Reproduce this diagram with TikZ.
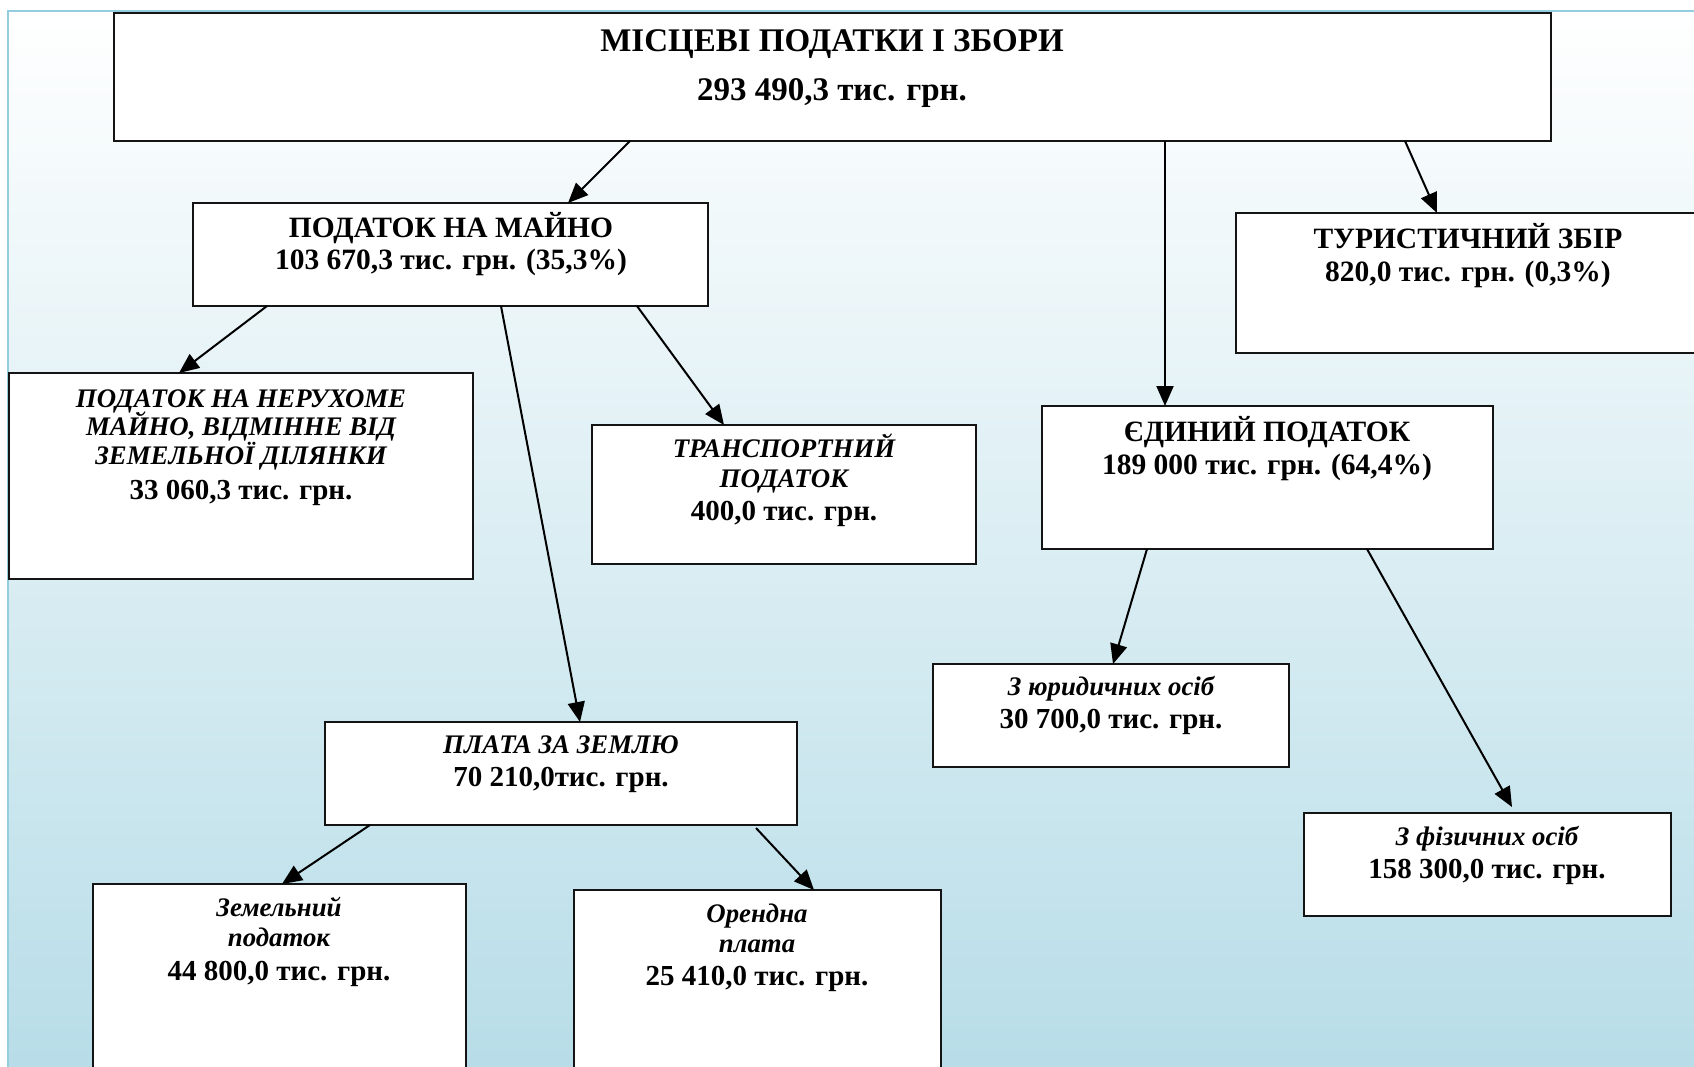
\documentclass[tikz,border=0pt]{standalone}
\usepackage{fontspec}
\setmainfont{Liberation Serif}
\usetikzlibrary{arrows.meta}
\definecolor{bgblue}{RGB}{184,221,232}
\definecolor{frameblue}{RGB}{146,206,222}
\definecolor{boxline}{RGB}{20,20,20}
\begin{document}
\begin{tikzpicture}[x=1pt,y=-1pt,
  box/.style={draw=boxline, line width=2pt, fill=white, rectangle, inner sep=0pt, outer sep=0pt, anchor=north west},
  ttl/.style={font=\fontsize{33}{38}\selectfont\bfseries, anchor=base, inner sep=0pt},
  hdr/.style={font=\fontsize{29.5}{33}\selectfont\bfseries, anchor=base, inner sep=0pt},
  itl/.style={font=\fontsize{26.8}{30}\selectfont\bfseries\itshape, anchor=base, inner sep=0pt},
  num/.style={font=\fontsize{29}{32}\selectfont\bfseries, anchor=base, inner sep=0pt},
  arr/.style={draw=black, line width=2pt, -{Triangle[length=20pt,width=17pt]}}]
\useasboundingbox (0,0) rectangle (1694,1066);
\clip (0,0) rectangle (1694,1066);
\fill[white] (0,0) rectangle (1694,1066);
\shade[top color=white, bottom color=bgblue] (8,11) rectangle (1694,1066);
\draw[frameblue, line width=2.5pt] (8,1070) -- (8,11) -- (1700,11);

% boxes
\node[box, minimum width=1437pt, minimum height=128pt] (top) at (114,13) {};
\node[box, minimum width=515pt, minimum height=103pt] (mayno) at (193,203) {};
\node[box, minimum width=476pt, minimum height=140pt] (tur) at (1236,213) {};
\node[box, minimum width=464pt, minimum height=206pt] (neruh) at (9,373) {};
\node[box, minimum width=384pt, minimum height=139pt] (transp) at (592,425) {};
\node[box, minimum width=451pt, minimum height=143pt] (yed) at (1042,406) {};
\node[box, minimum width=472pt, minimum height=103pt] (plata) at (325,722) {};
\node[box, minimum width=356pt, minimum height=103pt] (yur) at (933,664) {};
\node[box, minimum width=367pt, minimum height=103pt] (fiz) at (1304,813) {};
\node[box, minimum width=373pt, minimum height=220pt] (zem) at (93,884) {};
\node[box, minimum width=367pt, minimum height=220pt] (oren) at (574,890) {};

% texts
\node[ttl] (ttopa) at (832,51) {МІСЦЕВІ ПОДАТКИ І ЗБОРИ};
\node[ttl] (ttopb) at (832,100) {293 490,3 тис. грн.};
\node[hdr] (tmaya) at (451,237) {ПОДАТОК НА МАЙНО};
\node[hdr] (tmayb) at (451,269) {103 670,3 тис. грн. (35,3\%)};
\node[hdr] (ttura) at (1468,248) {ТУРИСТИЧНИЙ ЗБІР};
\node[hdr] (tturb) at (1468,281) {820,0 тис. грн. (0,3\%)};
\node[itl] (tnera) at (241,407) {ПОДАТОК НА НЕРУХОМЕ};
\node[itl] (tnerb) at (241,435) {МАЙНО, ВІДМІННЕ ВІД};
\node[itl] (tnerc) at (241,464) {ЗЕМЕЛЬНОЇ ДІЛЯНКИ};
\node[num] (tnerd) at (241,499) {33 060,3 тис. грн.};
\node[itl] (ttra) at (784,457) {ТРАНСПОРТНИЙ};
\node[itl] (ttrb) at (784,487) {ПОДАТОК};
\node[num] (ttrc) at (784,520) {400,0 тис. грн.};
\node[hdr] (tyeda) at (1267,441) {ЄДИНИЙ ПОДАТОК};
\node[hdr] (tyedb) at (1267,474) {189 000 тис. грн. (64,4\%)};
\node[itl] (tpla) at (561,753) {ПЛАТА ЗА ЗЕМЛЮ};
\node[num] (tplb) at (561,786) {70 210,0тис. грн.};
\node[itl] (tyura) at (1111,695) {З юридичних осіб};
\node[num] (tyurb) at (1111,728) {30 700,0 тис. грн.};
\node[itl] (tfiza) at (1487,845) {З фізичних осіб};
\node[num] (tfizb) at (1487,878) {158 300,0 тис. грн.};
\node[itl] (tzema) at (279,916) {Земельний};
\node[itl] (tzemb) at (279,946) {податок};
\node[num] (tzemc) at (279,980) {44 800,0 тис. грн.};
\node[itl] (torea) at (757,922) {Орендна};
\node[itl] (toreb) at (757,952) {плата};
\node[num] (torec) at (757,985) {25 410,0 тис. грн.};

% connectors
\draw[arr] ([xshift=516pt]top.south west) -- ([xshift=375pt]mayno.north west);
\draw[arr] ([xshift=1051pt]top.south west) -- ([xshift=123pt]yed.north west);
\draw[arr] ([xshift=1291pt]top.south west) -- ([xshift=201pt]tur.north west);
\draw[arr] ([xshift=74pt]mayno.south west) -- ([xshift=170pt]neruh.north west);
\draw[arr] ([xshift=308pt]mayno.south west) -- ([xshift=255pt]plata.north west);
\draw[arr] ([xshift=444pt]mayno.south west) -- ([xshift=132pt]transp.north west);
\draw[arr] ([xshift=45pt]plata.south west) -- ([xshift=189pt]zem.north west);
\draw[arr] ([xshift=431pt,yshift=-3pt]plata.south west) -- ([xshift=240pt]oren.north west);
\draw[arr] ([xshift=105pt]yed.south west) -- ([xshift=180pt]yur.north west);
\draw[arr] ([xshift=325pt]yed.south west) -- ([xshift=208pt,yshift=6pt]fiz.north west);
\end{tikzpicture}
\end{document}
